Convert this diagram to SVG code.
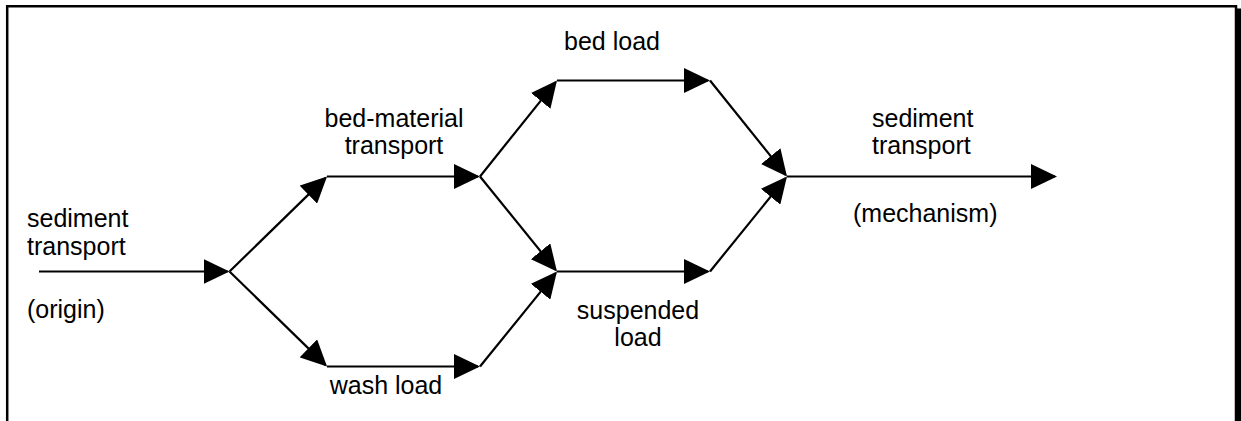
<svg xmlns="http://www.w3.org/2000/svg" width="1241" height="421" viewBox="0 0 1241 421">
<style>
.t{font-family:"Liberation Sans",Arial,sans-serif;font-size:25px;fill:#000}
.c{stroke:#000;stroke-width:2.2;fill:none;marker-end:url(#ah)}
</style>
<defs>
<marker id="ah" markerUnits="userSpaceOnUse" viewBox="0 0 26 25" refX="24" refY="12.5" markerWidth="26" markerHeight="25" orient="auto">
<path d="M0,0 L26,12.5 L0,25 Z" fill="#000"/>
</marker>
</defs>
<rect width="1241" height="421" fill="#fff"/>
<g id="frame">
<path d="M7.2,421 V6.2 H1236 V421" fill="none" stroke="#000" stroke-width="2.5"/>
<rect x="1236" y="8.5" width="5" height="413" fill="#000"/>
</g>
<g id="connectors">
<path class="c" d="M39,271.5 H227.5"/>
<path class="c" d="M229.5,271.5 L325.6,177.9"/>
<path class="c" d="M229.5,271.5 L325.6,365.1"/>
<path class="c" d="M327,176.5 H478"/>
<path class="c" d="M327,366.5 H478"/>
<path class="c" d="M480,176.5 L555.7,82.1"/>
<path class="c" d="M480,176.5 L555.7,269.9"/>
<path class="c" d="M480,366.5 L555.7,273.1"/>
<path class="c" d="M557,80.5 H708"/>
<path class="c" d="M557,271.5 H708"/>
<path class="c" d="M710,80.5 L785.7,174.9"/>
<path class="c" d="M710,271.5 L785.7,178.1"/>
<path class="c" d="M787,176.5 H1055"/>
</g>
<g id="origin">
<text class="t" x="27" y="227">sediment</text>
<text class="t" x="27" y="255">transport</text>
<text class="t" x="27" y="318">(origin)</text>
</g>
<g id="bed-material-transport">
<text class="t" x="394" y="127" text-anchor="middle">bed-material</text>
<text class="t" x="394" y="154" text-anchor="middle">transport</text>
</g>
<g id="wash-load">
<text class="t" x="386" y="394" text-anchor="middle">wash load</text>
</g>
<g id="bed-load">
<text class="t" x="612" y="50" text-anchor="middle">bed load</text>
</g>
<g id="suspended-load">
<text class="t" x="638" y="319" text-anchor="middle">suspended</text>
<text class="t" x="638" y="346" text-anchor="middle">load</text>
</g>
<g id="mechanism">
<text class="t" x="872" y="127">sediment</text>
<text class="t" x="872" y="154">transport</text>
<text class="t" x="853" y="222">(mechanism)</text>
</g>
</svg>
